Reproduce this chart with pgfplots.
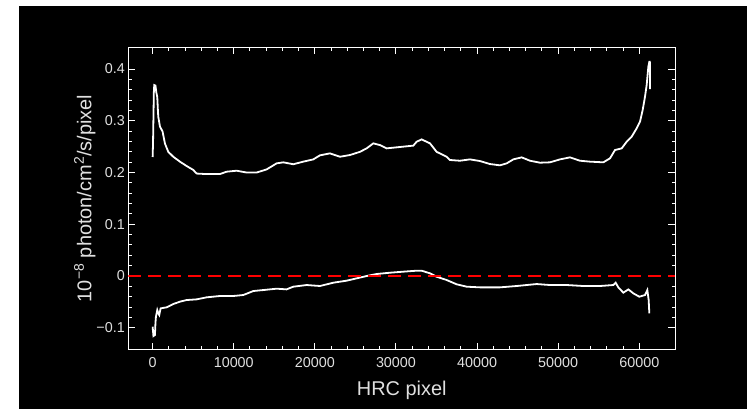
\documentclass[border=0pt]{standalone}
\usepackage{pgfplots}
\pgfplotsset{compat=1.18}
\usepackage{fontspec}
\setmainfont{Liberation Sans}
\definecolor{txt}{gray}{0.88}
\begin{document}
\begin{tikzpicture}[x=1bp,y=1bp]
\useasboundingbox (0,0) rectangle (747,409);
\fill[white] (0,0) rectangle (747,409);
\fill[black] (19,0) rectangle (747,403);
\begin{axis}[
  at={(128.3bp,59.5bp)}, anchor=south west,
  scale only axis, width=547bp, height=302.2bp,
  xmin=-3000, xmax=64440, ymin=-0.142, ymax=0.442,
  axis line style={white, line width=1.2bp},
  tick style={white, line width=1bp},
  tick align=inside,
  major tick length=7bp, minor tick length=3.5bp,
  xtick={0,10000,20000,30000,40000,50000,60000},
  xticklabels={0,10000,20000,30000,40000,50000,60000},
  ytick={-0.1,0,0.1,0.2,0.3,0.4},
  yticklabels={−0.1,0,0.1,0.2,0.3,0.4},
  minor x tick num=4, minor y tick num=4,
  scaled x ticks=false, scaled y ticks=false,
  ticklabel style={font=\fontsize{14.4}{16}\selectfont, text=txt},
  xticklabel style={yshift=-4.5bp},
  label style={font=\fontsize{20}{24}\selectfont, text=txt},
  xlabel={HRC pixel},
  ylabel={10\textsuperscript{−8} photon/cm\textsuperscript{2}/s/pixel},
  xlabel style={at={(axis description cs:0.5,-0.1506)}, anchor=base},
  ylabel style={at={(axis description cs:-0.0676,0.5)}, anchor=base},
]
% upper curve
\addplot[white, line width=1.8bp, mark=none] coordinates {
(0,0.230) (50,0.258) (150,0.355) (200,0.369) (350,0.368) (450,0.355)
(571,0.346) (650,0.320) (694,0.308) (900,0.289) (1229,0.279) (1517,0.256)
(1927,0.240) (2544,0.2305) (3366,0.221) (4188,0.2126) (5010,0.205) (5421,0.198)
(6655,0.197) (8298,0.197) (9121,0.2016) (10354,0.2035) (11587,0.200) (12820,0.200)
(14053,0.206) (15286,0.2177) (16108,0.2197) (17341,0.216) (18574,0.221) (19807,0.2254)
(20629,0.2332) (21862,0.237) (23095,0.2305) (24328,0.2338) (25561,0.240) (26383,0.2467)
(27205,0.2564) (28027,0.253) (28849,0.2467) (30904,0.250) (32137,0.252) (32547,0.2595)
(33163,0.264) (34191,0.2564) (35013,0.240) (36246,0.2305) (36658,0.2242) (37891,0.2228)
(39124,0.2254) (40357,0.2222) (41590,0.2164) (42823,0.2139) (43645,0.2177) (44467,0.2254)
(45500,0.2293) (46522,0.2228) (47755,0.219) (48988,0.2197) (50222,0.2254) (51455,0.2293)
(52688,0.2228) (53921,0.221) (55565,0.2197) (56387,0.2274) (57004,0.2435) (57826,0.2467)
(58442,0.2595) (59059,0.2692) (59676,0.2854) (60087,0.2982) (60416,0.3208) (60703,0.3465)
(60909,0.369) (61114,0.4044) (61237,0.414) (61300,0.414) (61319,0.361)
};
% lower curve
\addplot[white, line width=1.8bp, mark=none] coordinates {
(0,-0.098) (100,-0.116) (284,-0.114) (350,-0.090) (407,-0.0786) (571,-0.0657)
(700,-0.072) (818,-0.0754) (982,-0.0625) (1722,-0.0605) (2544,-0.0541) (3366,-0.0496)
(4188,-0.0464) (5421,-0.0451) (6655,-0.0412) (8298,-0.0386) (9942,-0.0386) (11176,-0.0367)
(12408,-0.029) (13641,-0.0271) (15286,-0.0245) (16519,-0.0258) (17341,-0.0206) (18985,-0.0174)
(20629,-0.0193) (22273,-0.0129) (23916,-0.009) (25149,-0.0045) (26383,0.0) (27616,0.0039)
(29260,0.0064) (30904,0.0084) (32548,0.0103) (33163,0.0103) (34191,0.0052) (35013,-0.0013)
(36246,-0.0077) (37479,-0.016) (38712,-0.0206) (40356,-0.0219) (42823,-0.0219) (44879,-0.0193)
(46111,-0.0174) (47344,-0.0155) (48988,-0.0174) (51044,-0.0174) (53099,-0.0193) (55154,-0.0193)
(56798,-0.0174) (57086,-0.0129) (57415,-0.0219) (58031,-0.0322) (58648,-0.0258) (59265,-0.0335)
(60005,-0.040) (60704,-0.0367) (60991,-0.0271) (61155,-0.0464) (61237,-0.0721)
};
% zero line
\addplot[red, line width=2bp, dash pattern=on 13bp off 7bp, mark=none] coordinates {(-3000,0) (64440,0)};
\end{axis}
\end{tikzpicture}
\end{document}
